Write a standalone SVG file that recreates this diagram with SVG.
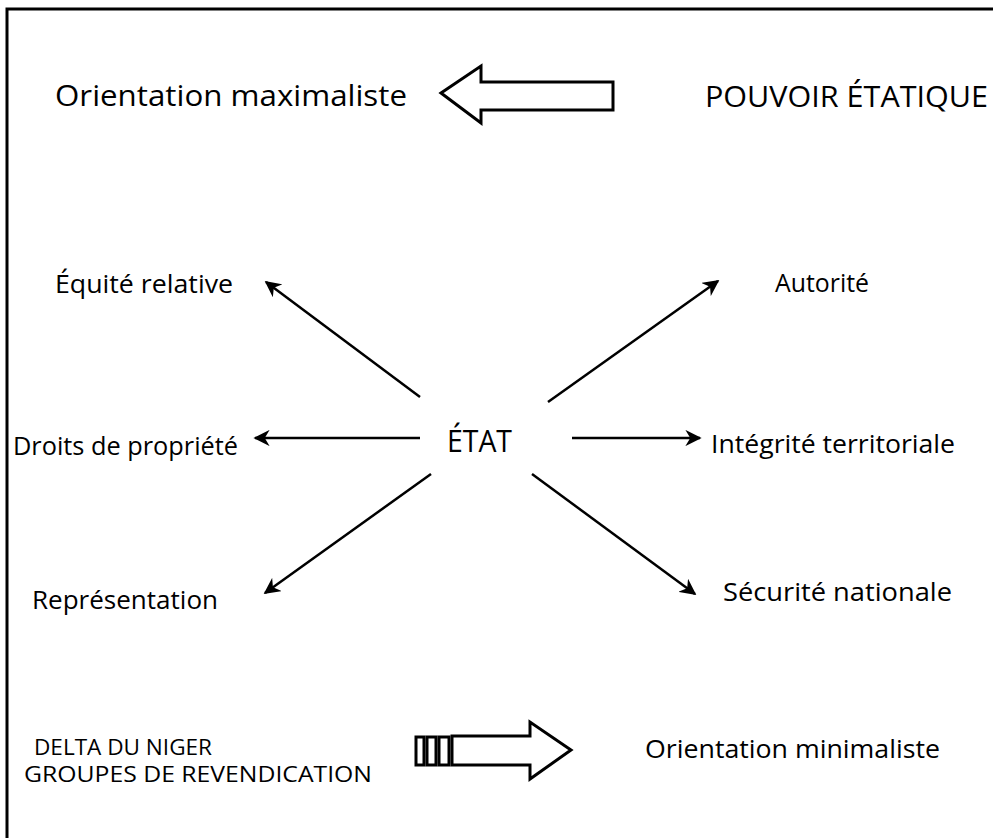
<svg xmlns="http://www.w3.org/2000/svg" width="993" height="838" viewBox="0 0 993 838">
<defs>
<style>
text{font-family:"Open Sans","Liberation Sans",sans-serif;fill:#000;}
.big{font-size:30px;}
.lab{font-size:25px;}
.line{stroke:#000;stroke-width:2.5;fill:none;}
.block{stroke:#000;stroke-width:3;fill:#fff;stroke-linejoin:miter;}
</style>
<marker id="ah" viewBox="0 0 10 10" refX="9" refY="5" markerWidth="6.5" markerHeight="6.5" orient="auto">
<path d="M0,0 L10,5 L0,10 L3,5 Z" fill="#000"/>
</marker>
</defs>
<rect x="0" y="0" width="993" height="838" fill="#fff"/>
<path d="M7,838 L7,9 L993,9" stroke="#000" stroke-width="3" fill="none"/>

<g id="orientation-max"><text class="big" x="55" y="106" textLength="352" lengthAdjust="spacingAndGlyphs">Orientation maximaliste</text></g>
<g id="pouvoir"><text class="big" x="705" y="107" textLength="283" lengthAdjust="spacingAndGlyphs">POUVOIR ÉTATIQUE</text></g>
<g id="equite"><text class="lab" x="55" y="293" textLength="178" lengthAdjust="spacingAndGlyphs">Équité relative</text></g>
<g id="autorite"><text class="lab" x="775" y="292" textLength="94" lengthAdjust="spacingAndGlyphs">Autorité</text></g>
<g id="droits"><text class="lab" x="13" y="455" textLength="225" lengthAdjust="spacingAndGlyphs">Droits de propriété</text></g>
<g id="etat"><text x="447" y="452" style="font-size:31px" textLength="65" lengthAdjust="spacingAndGlyphs">ÉTAT</text></g>
<g id="integrite"><text class="lab" x="711" y="453" textLength="244" lengthAdjust="spacingAndGlyphs">Intégrité territoriale</text></g>
<g id="representation"><text class="lab" x="32" y="609" textLength="186" lengthAdjust="spacingAndGlyphs">Représentation</text></g>
<g id="securite"><text class="lab" x="723" y="601" textLength="229" lengthAdjust="spacingAndGlyphs">Sécurité nationale</text></g>
<g id="delta"><text x="34" y="755" style="font-size:22px" textLength="178" lengthAdjust="spacingAndGlyphs">DELTA DU NIGER</text><text x="24" y="782" style="font-size:22px" textLength="348" lengthAdjust="spacingAndGlyphs">GROUPES DE REVENDICATION</text></g>
<g id="orientation-min"><text class="lab" x="645" y="758" textLength="295" lengthAdjust="spacingAndGlyphs">Orientation minimaliste</text></g>

<g id="connectors">
<line class="line" x1="420" y1="397" x2="266" y2="282" marker-end="url(#ah)"/>
<line class="line" x1="548" y1="402" x2="718" y2="281" marker-end="url(#ah)"/>
<line class="line" x1="420" y1="438" x2="255" y2="438" marker-end="url(#ah)"/>
<line class="line" x1="572" y1="438" x2="700" y2="438" marker-end="url(#ah)"/>
<line class="line" x1="431" y1="474" x2="265" y2="593" marker-end="url(#ah)"/>
<line class="line" x1="532" y1="474" x2="695" y2="594" marker-end="url(#ah)"/>
<path class="block" d="M441,93 L481,66 L481,82 L613,82 L613,110 L481,110 L481,123 Z"/>
<rect class="block" x="416" y="737" width="8" height="28" stroke-width="2"/>
<rect class="block" x="427" y="737" width="9" height="28" stroke-width="2"/>
<rect class="block" x="439" y="737" width="10" height="28" stroke-width="2"/>
<path class="block" d="M452,736 L530,736 L530,722 L571,750 L530,779 L530,765 L452,765 Z"/>
</g>
</svg>
